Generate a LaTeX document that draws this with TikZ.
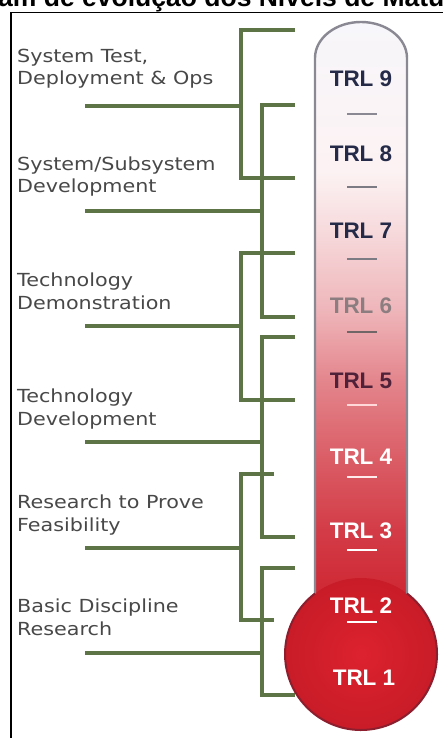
\documentclass[tikz,border=0pt]{standalone}
\usepackage{fontspec}
\setmainfont{Liberation Sans}
\newfontfamily\labelFont[FakeStretch=1.15]{DejaVu Sans}

\definecolor{bracketGreen}{RGB}{92,116,70}
\definecolor{labelGray}{RGB}{72,72,72}
\definecolor{trlDark}{RGB}{36,42,72}
\definecolor{trlMid}{RGB}{140,126,128}
\definecolor{tubeRed}{RGB}{206,38,50}
\definecolor{tubeTop}{RGB}{247,246,250}
\definecolor{tubeGray}{RGB}{138,136,146}
\definecolor{bulbRed}{RGB}{200,28,40}
\definecolor{bulbLight}{RGB}{220,34,46}
\definecolor{bulbRim}{RGB}{140,30,45}

\pgfdeclareverticalshading{tubeShading}{100bp}{
  color(0bp)=(tubeRed);
  color(25bp)=(tubeRed);
  color(31bp)=(tubeRed!90!white);
  color(37.5bp)=(tubeRed!74!white);
  color(44bp)=(tubeRed!56!white);
  color(50bp)=(tubeRed!34!white);
  color(57bp)=(tubeRed!17!white);
  color(62bp)=(tubeRed!6!white);
  color(75bp)=(tubeTop);
  color(100bp)=(tubeTop)}

\begin{document}
\begin{tikzpicture}
    [x=1pt, y=-1pt,
     labelText/.style={anchor=base west,
                       align=left,
                       inner sep=0pt,
                       text=labelGray,
                       font=\labelFont\fontsize{18}{22.5}\selectfont},
     trlText/.style={anchor=base,
                     inner sep=0pt,
                     font=\bfseries\fontsize{22.5}{24}\selectfont},
     bracketLine/.style={draw=bracketGreen, line width=3.2pt},
     trlDash/.style={line width=1.8pt}]

    \useasboundingbox (0,0) rectangle (443,738);
    \clip (0,0) rectangle (443,738);
    \fill[white] (0,0) rectangle (443,738);

    \node[anchor=base west, inner sep=0pt, font=\bfseries\fontsize{26.5}{28}\selectfont] (chartTitle) at (-2,7) {am de evolução dos Níveis de Matu};
    \draw[line width=1.6pt] (11,738) -- (11,12.5) -- (443,12.5);

    \node[labelText] (systemTest) at (17,85) {System Test,\\Deployment \& Ops};
    \node[labelText] (subsystemDev) at (17,193) {System/Subsystem\\Development};
    \node[labelText] (techDemo) at (17,309) {Technology\\Demonstration};
    \node[labelText] (techDev) at (17,425) {Technology\\Development};
    \node[labelText] (feasibility) at (17,531) {Research to Prove\\Feasibility};
    \node[labelText] (basicResearch) at (17,635) {Basic Discipline\\Research};

    % brackets from each label to its TRL range
    \coordinate (systemTestTop) at (295,30);
    \coordinate (systemTestBottom) at (295,178);
    \coordinate (systemTestJoin) at (241,106);
    \coordinate (systemTestTail) at (85,106);
    \draw[bracketLine] (systemTestTop) -| (systemTestJoin) |- (systemTestBottom);
    \draw[bracketLine] (systemTestTail) -- (systemTestJoin);

    \coordinate (subsystemDevTop) at (295,105);
    \coordinate (subsystemDevBottom) at (295,317);
    \coordinate (subsystemDevJoin) at (262,211);
    \coordinate (subsystemDevTail) at (85,211);
    \draw[bracketLine] (subsystemDevTop) -| (subsystemDevJoin) |- (subsystemDevBottom);
    \draw[bracketLine] (subsystemDevTail) -- (subsystemDevJoin);

    \coordinate (techDemoTop) at (295,253);
    \coordinate (techDemoBottom) at (295,400);
    \coordinate (techDemoJoin) at (241,326);
    \coordinate (techDemoTail) at (85,326);
    \draw[bracketLine] (techDemoTop) -| (techDemoJoin) |- (techDemoBottom);
    \draw[bracketLine] (techDemoTail) -- (techDemoJoin);

    \coordinate (techDevTop) at (295,337);
    \coordinate (techDevBottom) at (295,537);
    \coordinate (techDevJoin) at (262,442);
    \coordinate (techDevTail) at (85,442);
    \draw[bracketLine] (techDevTop) -| (techDevJoin) |- (techDevBottom);
    \draw[bracketLine] (techDevTail) -- (techDevJoin);

    \coordinate (feasibilityTop) at (274,474);
    \coordinate (feasibilityBottom) at (274,620);
    \coordinate (feasibilityJoin) at (241,548);
    \coordinate (feasibilityTail) at (85,548);
    \draw[bracketLine] (feasibilityTop) -| (feasibilityJoin) |- (feasibilityBottom);
    \draw[bracketLine] (feasibilityTail) -- (feasibilityJoin);

    \coordinate (basicResearchTop) at (295,568);
    \coordinate (basicResearchBottom) at (295,695);
    \coordinate (basicResearchJoin) at (262,653);
    \coordinate (basicResearchTail) at (85,653);
    \draw[bracketLine] (basicResearchTop) -| (basicResearchJoin) |- (basicResearchBottom);
    \draw[bracketLine] (basicResearchTail) -- (basicResearchJoin);

    % thermometer
    \coordinate (bulbCenter) at (361,654);
    \shade[shading=tubeShading] (315,600) -- (315,58) arc[start angle=180, end angle=360, x radius=46, y radius=36] -- (407,600) -- cycle;
    \shade[inner color=bulbLight, outer color=bulbRed] (bulbCenter) circle[radius=76];
    \draw[tubeGray, line width=2.4pt] (315,593.5) -- (315,58) arc[start angle=180, end angle=360, x radius=46, y radius=36] -- (407,593.5);
    \draw[bulbRim, line width=2pt] (407,593.5) arc[start angle=-52.76, end angle=232.76, radius=76];

    \node[trlText, text=trlDark] (trlNine) at (361,87) {TRL 9};
    \node[trlText, text=trlDark] (trlEight) at (361,162) {TRL 8};
    \node[trlText, text=trlDark] (trlSeven) at (361,238) {TRL 7};
    \node[trlText, text=trlMid] (trlSix) at (361,313) {TRL 6};
    \node[trlText, text=trlDark!80!red] (trlFive) at (361,388) {TRL 5};
    \node[trlText, text=white] (trlFour) at (361,464) {TRL 4};
    \node[trlText, text=white] (trlThree) at (361,538) {TRL 3};
    \node[trlText, text=white] (trlTwo) at (361,613) {TRL 2};
    \node[trlText, text=white] (trlOne) at (364,685) {TRL 1};

    \draw[trlDash, tubeGray] (347,114) -- (377,114);
    \draw[trlDash, tubeGray!90!black] (347,187) -- (377,187);
    \draw[trlDash, tubeGray!90!black] (347,259) -- (377,259);
    \draw[trlDash, trlMid!80!black] (347,332) -- (377,332);
    \draw[trlDash, white!85!red] (347,405) -- (377,405);
    \draw[trlDash, white!92!red] (347,477) -- (377,477);
    \draw[trlDash, white] (347,550) -- (377,550);
    \draw[trlDash, white] (347,622) -- (377,622);
\end{tikzpicture}
\end{document}
